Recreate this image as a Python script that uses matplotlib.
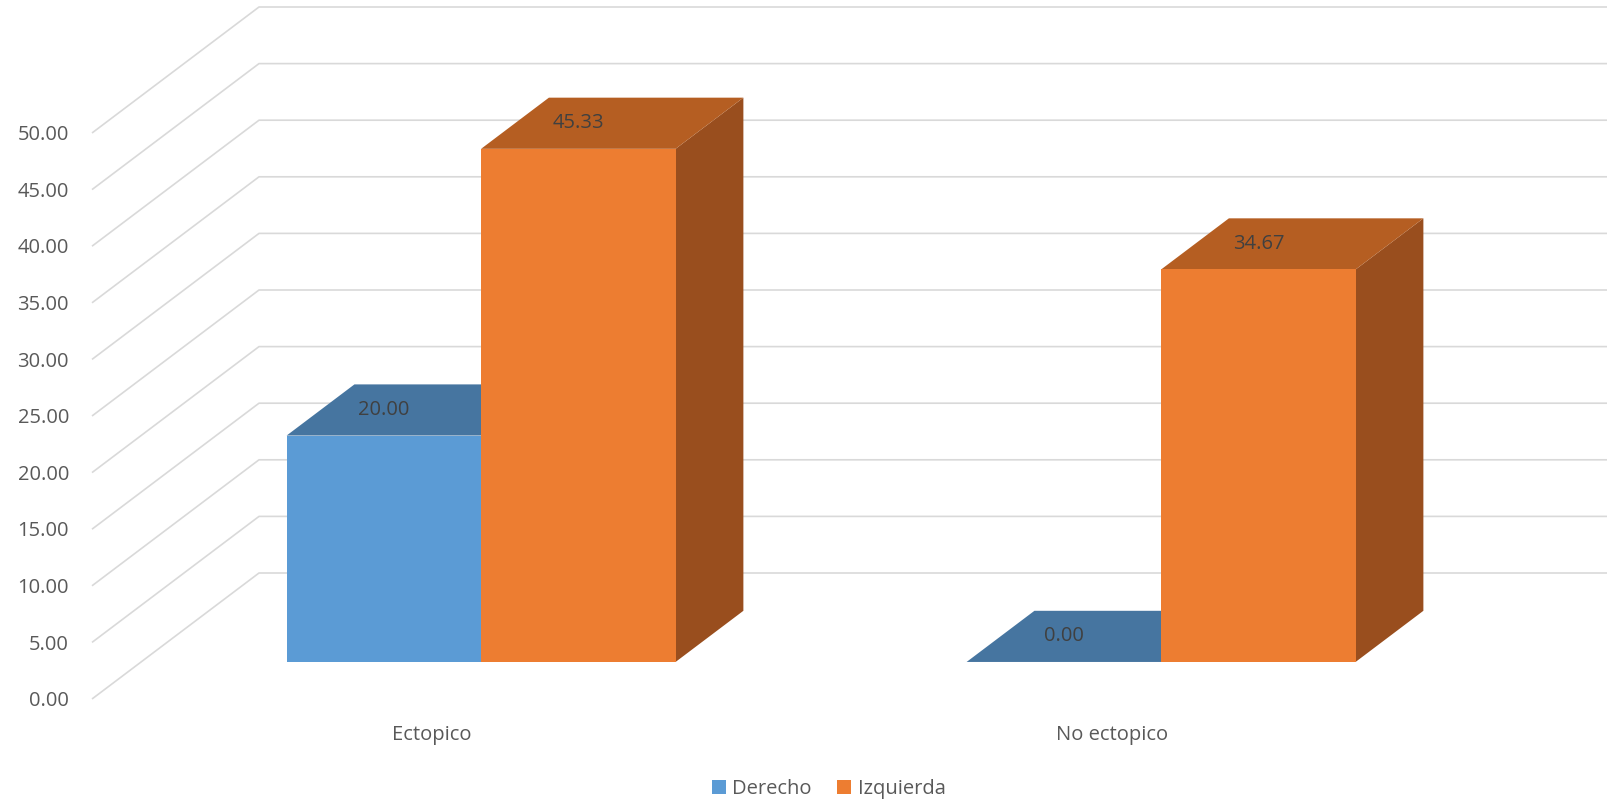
import matplotlib
matplotlib.use("Agg")
import matplotlib.pyplot as plt
from matplotlib.patches import Polygon, Patch

plt.rcParams['font.family'] = ['Open Sans', 'DejaVu Sans']

# ---- data ----
categories = ["Ectopico", "No ectopico"]
series_names = ["Derecho", "Izquierda"]
derecho = [20.00, 0.00]
izquierda = [45.33, 34.67]
y_ticks = [0, 5, 10, 15, 20, 25, 30, 35, 40, 45, 50]

# ---- style / projection ----
front_cols = ["#5B9BD5", "#ED7D31"]
top_cols = ["#4675A0", "#B55E22"]
side_cols = ["#3E6A93", "#994E1E"]
grid_col = "#D9D9D9"
text_col = "#595959"
label_col = "#404040"
FS = 14.5

W, H = 1607, 801
PX_CAT = 680.0      # pixels per category unit
PX_VAL = 11.32      # pixels per value unit
X0_PX = 432.0       # pixel of category 0 (front plane)
Y0_PX = 699.0       # pixel (from top) of value 0 (front plane)
DX = 167.0 / PX_CAT  # full depth x shift (data units)
DY = 126.0 / PX_VAL  # full depth y shift (data units)
Z0, Z1 = 0.294, 0.70  # bar depth range
BW = 0.286           # bar width (category units)

fig = plt.figure(figsize=(W / 100, H / 100), dpi=100)
ax = fig.add_axes([0, 0, 1, 1])
ax.set_xlim(-X0_PX / PX_CAT, (W - X0_PX) / PX_CAT)
ax.set_ylim(-(H - Y0_PX) / PX_VAL, Y0_PX / PX_VAL)
ax.axis("off")

# ---- walls / gridlines ----
xl, xr = -0.5, 1.5
for v in y_ticks:
    ax.plot([xl, xl + DX, xr + DX], [v, v + DY, v + DY], color=grid_col,
            lw=1.2, solid_capstyle="butt", zorder=1)
    ax.text(xl - 0.034, v - 0.2, f"{v:.2f}", ha="right", va="center",
            fontsize=FS, color=text_col)


def P(x, y, z):
    return (x + z * DX, y + z * DY)


def draw_bar(x_left, x_right, v, j):
    # side face
    side = [P(x_right, 0, Z0), P(x_right, 0, Z1), P(x_right, v, Z1), P(x_right, v, Z0)]
    top = [P(x_left, v, Z0), P(x_right, v, Z0), P(x_right, v, Z1), P(x_left, v, Z1)]
    front = [P(x_left, 0, Z0), P(x_right, 0, Z0), P(x_right, v, Z0), P(x_left, v, Z0)]
    ax.add_patch(Polygon(side, closed=True, facecolor=side_cols[j], edgecolor="none", zorder=3))
    ax.add_patch(Polygon(top, closed=True, facecolor=top_cols[j], edgecolor="none", zorder=3))
    ax.add_patch(Polygon(front, closed=True, facecolor=front_cols[j], edgecolor="none", zorder=3))


for i, cat in enumerate(categories):
    vals = [derecho[i], izquierda[i]]
    for j, v in enumerate(vals):
        x_left = i - BW + j * BW
        x_right = x_left + BW
        draw_bar(x_left, x_right, v, j)
    for j, v in enumerate(vals):
        x_left = i - BW + j * BW
        cx = x_left + BW / 2 + Z0 * DX
        ax.text(cx, v + (Z0 + Z1) / 2 * DY, f"{v:.2f}", ha="center", va="center",
                fontsize=FS, color=label_col, zorder=5)
    ax.text(i, -(735 - Y0_PX) / PX_VAL, cat, ha="center", va="center",
            fontsize=FS, color=text_col)

handles = [Patch(facecolor=front_cols[j], edgecolor="none") for j in range(2)]
leg = fig.legend(handles, series_names, loc="center", bbox_to_anchor=(828.5 / W, 12 / H),
                 ncol=2, frameon=False, fontsize=FS, handlelength=0.7, handleheight=0.7,
                 handletextpad=0.3, columnspacing=1.3, borderpad=0)
for t in leg.get_texts():
    t.set_color(text_col)

fig.savefig("out.png", dpi=100)
